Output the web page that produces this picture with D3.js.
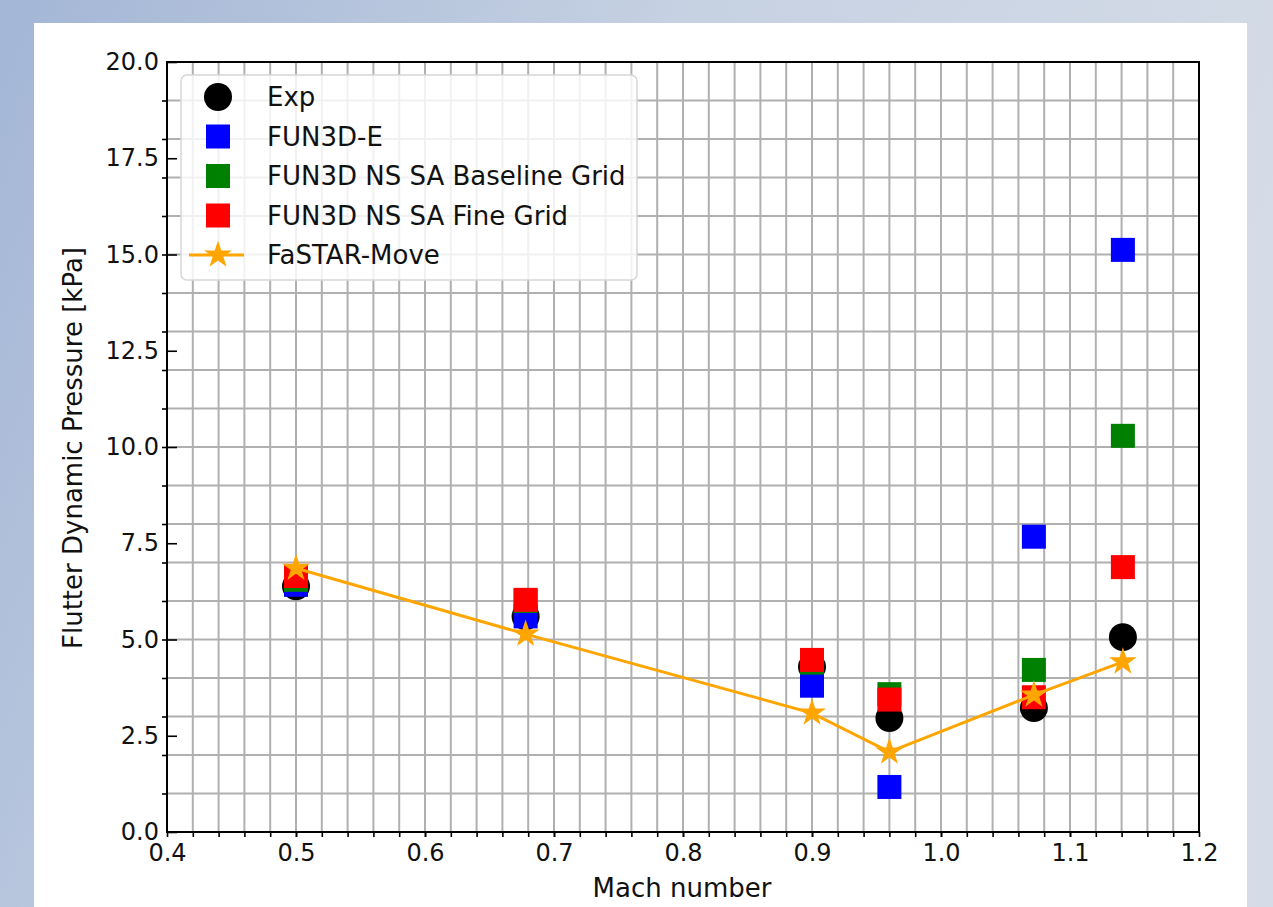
<!DOCTYPE html>
<html>
<head>
<meta charset="utf-8">
<script src="https://cdn.jsdelivr.net/npm/d3@7"></script>
<style>
  html, body { margin: 0; padding: 0; }
  body { width: 1273px; height: 907px; overflow: hidden; }
  text { font-family: "DejaVu Sans", sans-serif; }
</style>
</head>
<body>
<svg id="chart" width="1273" height="907"></svg>
<script>
// Mach numbers and flutter dynamic pressure [kPa]
const mach = [0.5, 0.678, 0.90, 0.96, 1.072, 1.141];
const expData = [6.38, 5.6, 4.29, 2.96, 3.22, 5.06];
const fun3dE = [6.42, 5.6, 3.8, 1.17, 7.67, 15.12];
const nsBaseline = [6.55, 6.0, 4.4, 3.58, 4.21, 10.29];
const nsFine = [6.65, 6.03, 4.47, 3.44, 3.5, 6.88];
const fastar = [6.85, 5.14, 3.09, 2.08, 3.56, 4.42];

const xTicks = [0.4, 0.5, 0.6, 0.7, 0.8, 0.9, 1.0, 1.1, 1.2];
const yTicks = [0, 2.5, 5, 7.5, 10, 12.5, 15, 17.5, 20];

const series = [
  { name: "Exp", values: expData, color: "#000000", shape: "circle" },
  { name: "FUN3D-E", values: fun3dE, color: "#0000ff", shape: "square" },
  { name: "FUN3D NS SA Baseline Grid", values: nsBaseline, color: "#008000", shape: "square" },
  { name: "FUN3D NS SA Fine Grid", values: nsFine, color: "#ff0000", shape: "square" },
  { name: "FaSTAR-Move", values: fastar, color: "#ffa500", shape: "star" }
];

const svg = d3.select("#chart");
const W = 1273, H = 907;

// blurred slide background around the white panel
const defs = svg.append("defs");
const bg = defs.append("linearGradient").attr("id", "bg").attr("x1", "0").attr("x2", "1").attr("y1", "0").attr("y2", "0.3");
bg.append("stop").attr("offset", "0").attr("stop-color", "#a3b6d6");
bg.append("stop").attr("offset", "0.5").attr("stop-color", "#c6d1e2");
bg.append("stop").attr("offset", "1").attr("stop-color", "#d5dce7");
svg.append("rect").attr("width", W).attr("height", H).attr("fill", "url(#bg)");
svg.append("rect").attr("x", 34).attr("y", 23).attr("width", 1213).attr("height", H - 23).attr("fill", "#ffffff");

const pLeft = 167, pRight = 1199, pTop = 62, pBottom = 832;
const x = d3.scaleLinear().domain([0.4, 1.2]).range([pLeft, pRight]);
const y = d3.scaleLinear().domain([0, 20]).range([pBottom, pTop]);

const xMinor = d3.range(21, 60).map(k => k / 50);
const yMinor = d3.range(1, 20);

// grid
const grid = svg.append("g").attr("stroke", "#b0b0b0").attr("stroke-width", 2);
grid.selectAll("line.gx").data(xMinor).enter().append("line")
  .attr("x1", d => x(d)).attr("x2", d => x(d)).attr("y1", pTop).attr("y2", pBottom);
grid.selectAll("line.gy").data(yMinor).enter().append("line")
  .attr("y1", d => y(d)).attr("y2", d => y(d)).attr("x1", pLeft).attr("x2", pRight);

// axes
const xAxis = svg.append("g").attr("transform", `translate(0,${pBottom})`)
  .call(d3.axisBottom(x).tickValues(xTicks).tickFormat(d3.format(".1f")).tickSize(5).tickPadding(7));
const xMinorAxis = svg.append("g").attr("transform", `translate(0,${pBottom})`)
  .call(d3.axisBottom(x).tickValues(xMinor).tickFormat("").tickSize(5));
const yAxis = svg.append("g").attr("transform", `translate(${pLeft},0)`)
  .call(d3.axisLeft(y).tickValues(yTicks).tickFormat(d3.format(".1f")).tickSize(-10).tickPadding(9));
const yMinorAxis = svg.append("g").attr("transform", `translate(${pLeft},0)`)
  .call(d3.axisLeft(y).tickValues(yMinor).tickFormat("").tickSize(5));

[xAxis, xMinorAxis, yAxis, yMinorAxis].forEach(g => {
  g.select(".domain").remove();
  g.selectAll(".tick line").attr("stroke", "#000").attr("stroke-width", 1.6);
  g.selectAll(".tick text").attr("fill", "#111").style("font-size", "24px")
    .style("font-family", "'DejaVu Sans', sans-serif");
});
yAxis.selectAll(".tick text").attr("x", -8);

// frame
svg.append("rect").attr("x", pLeft).attr("y", pTop).attr("width", pRight - pLeft).attr("height", pBottom - pTop)
  .attr("fill", "none").attr("stroke", "#000").attr("stroke-width", 2);

// axis titles
svg.append("text").attr("x", 682).attr("y", 897).attr("text-anchor", "middle")
  .style("font-size", "26px").attr("fill", "#111").text("Mach number");
svg.append("text").attr("transform", `translate(82,448) rotate(-90)`)
  .attr("text-anchor", "middle").style("font-size", "26px").attr("fill", "#111")
  .text("Flutter Dynamic Pressure [kPa]");

const sq = 24, circR = 14;
const starPath = d3.symbol().type(d3.symbolStar).size(240);

function drawMarker(g, s, cx, cy) {
  if (s.shape === "circle") {
    g.append("circle").attr("cx", cx).attr("cy", cy).attr("r", circR).attr("fill", s.color);
  } else if (s.shape === "square") {
    g.append("rect").attr("x", cx - sq / 2).attr("y", cy - sq / 2).attr("width", sq).attr("height", sq).attr("fill", s.color);
  } else {
    g.append("path").attr("d", starPath()).attr("transform", `translate(${cx},${cy})`).attr("fill", s.color);
  }
}

// data marks
const plot = svg.append("g");
series.forEach(s => {
  const pts = mach.map((m, i) => [m, s.values[i]]);
  if (s.shape === "star") {
    plot.append("path").datum(pts)
      .attr("d", d3.line().x(d => x(d[0])).y(d => y(d[1])))
      .attr("fill", "none").attr("stroke", s.color).attr("stroke-width", 3);
  }
  pts.forEach(p => drawMarker(plot, s, x(p[0]), y(p[1])));
});

// legend
const leg = svg.append("g");
leg.append("rect").attr("x", 181).attr("y", 75).attr("width", 456).attr("height", 205).attr("rx", 6)
  .attr("fill", "#fff").attr("fill-opacity", 0.82).attr("stroke", "#d6d6d6").attr("stroke-width", 1.5);
series.forEach((s, i) => {
  const cy = 97 + i * 39.5;
  if (s.shape === "star") {
    leg.append("line").attr("x1", 189).attr("x2", 244).attr("y1", cy).attr("y2", cy)
      .attr("stroke", s.color).attr("stroke-width", 3);
  }
  drawMarker(leg, s, 218, cy);
  leg.append("text").attr("x", 267).attr("y", cy + 9).style("font-size", "26px").attr("fill", "#111").text(s.name);
});
</script>
</body>
</html>
